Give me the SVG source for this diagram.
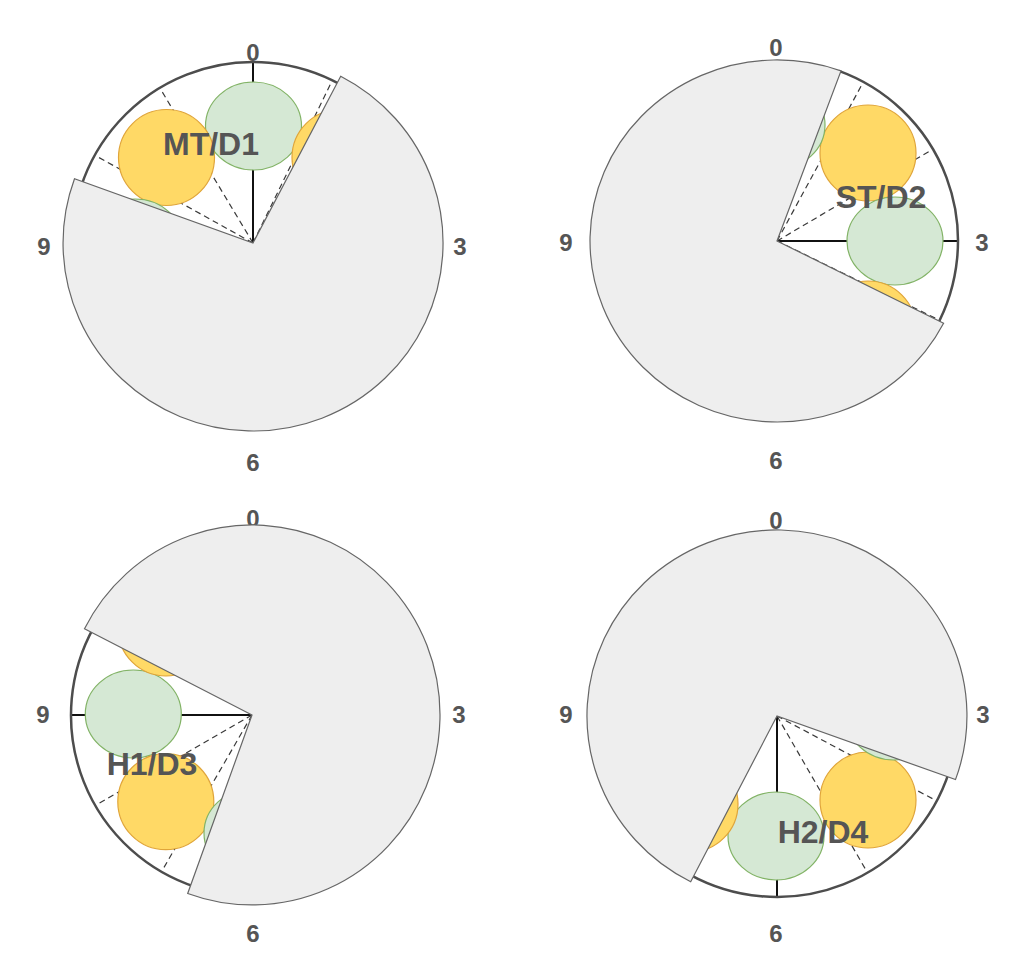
<svg xmlns="http://www.w3.org/2000/svg" width="1024" height="966" viewBox="0 0 1024 966">
<style>
.pie{fill:#eeeeee;stroke:#666666;stroke-width:1.2}
.rim{fill:none;stroke:#4d4d4d;stroke-width:2.5}
.hand{stroke:#111111;stroke-width:2;fill:none}
.dash{stroke:#3a3a3a;stroke-width:1.2;stroke-dasharray:6 4;fill:none}
.g{fill:#d5e8d4;stroke:#82b366;stroke-width:1.2}
.o{fill:#ffd966;stroke:#e0a53a;stroke-width:1.2}
.num{font-family:"Liberation Sans",Arial,sans-serif;font-weight:bold;font-size:24px;fill:#555555;text-anchor:middle}
.title{font-family:"Liberation Sans",Arial,sans-serif;font-weight:bold;font-size:32px;fill:#555555;text-anchor:middle}
</style>
<rect width="1024" height="966" fill="#ffffff"/>

<g id="clock-mt-d1">
  <g id="mt-d1-connectors">
    <line class="hand" x1="253" y1="243" x2="253" y2="62"/>
    <line class="dash" x1="253" y1="243" x2="95.6" y2="155.7"/>
    <line class="dash" x1="253" y1="243" x2="160.3" y2="88.7"/>
    <line class="dash" x1="253" y1="243" x2="331.9" y2="81.2"/>
  </g>
  <ellipse class="g" cx="253.5" cy="126" rx="48" ry="44"/>
  <circle class="o" cx="166.5" cy="157.5" r="48"/>
  <circle class="o" cx="340" cy="157.5" r="48"/>
  <ellipse class="g" cx="135" cy="243" rx="48" ry="44"/>
  <path class="rim" d="M80.9,187.1 A181,181 0 0 1 340.8,84.7"/>
  <text class="num" x="253" y="61">0</text>
  <text class="num" x="460" y="255">3</text>
  <text class="num" x="253" y="471">6</text>
  <text class="num" x="44" y="255">9</text>
  <path class="pie" d="M253,243 L340.7,76.2 A190,188 0 1 1 74.5,178.7 Z"/>
  <text class="title" x="211" y="155">MT/D1</text>
</g>

<g id="clock-st-d2">
  <g id="st-d2-connectors">
    <line class="hand" x1="777" y1="241" x2="958" y2="241"/>
    <line class="dash" x1="777" y1="241" x2="862.9" y2="82.8"/>
    <line class="dash" x1="777" y1="241" x2="932.1" y2="149.6"/>
    <line class="dash" x1="777" y1="241" x2="938.8" y2="319.9"/>
  </g>
  <circle class="o" cx="868" cy="153" r="48"/>
  <ellipse class="g" cx="895" cy="241" rx="48" ry="44"/>
  <ellipse class="g" cx="777" cy="125" rx="48" ry="44"/>
  <circle class="o" cx="868" cy="329" r="48"/>
  <path class="rim" d="M838.9,70.9 A181,181 0 0 1 935.3,328.7"/>
  <text class="num" x="776" y="56">0</text>
  <text class="num" x="982" y="251">3</text>
  <text class="num" x="776" y="469">6</text>
  <text class="num" x="566" y="251">9</text>
  <path class="pie" d="M777,241 L943.6,323.2 A187,181 0 1 1 841,70.9 Z"/>
  <text class="title" x="881" y="208">ST/D2</text>
</g>

<g id="clock-h1-d3">
  <g id="h1-d3-connectors">
    <line class="hand" x1="252" y1="715" x2="71" y2="715"/>
    <line class="dash" x1="252" y1="715" x2="162" y2="870.9"/>
    <line class="dash" x1="252" y1="715" x2="96.1" y2="805"/>
  </g>
  <ellipse class="g" cx="133.3" cy="714" rx="48" ry="44"/>
  <circle class="o" cx="165.8" cy="801.7" r="48"/>
  <ellipse class="g" cx="252" cy="833" rx="48" ry="44"/>
  <circle class="o" cx="166" cy="628" r="48"/>
  <path class="rim" d="M196.1,887.2 A181,181 0 0 1 93.7,627.3"/>
  <text class="num" x="253" y="527">0</text>
  <text class="num" x="459" y="723">3</text>
  <text class="num" x="253" y="942">6</text>
  <text class="num" x="43" y="723">9</text>
  <path class="pie" d="M252,715 L84.5,628.7 A188,190 0 1 1 187.7,893.5 Z"/>
  <text class="title" x="152" y="775">H1/D3</text>
</g>

<g id="clock-h2-d4">
  <g id="h2-d4-connectors">
    <line class="hand" x1="777" y1="716" x2="777" y2="897"/>
    <line class="dash" x1="777" y1="716" x2="867" y2="871.9"/>
    <line class="dash" x1="777" y1="716" x2="935.9" y2="800.5"/>
  </g>
  <ellipse class="g" cx="776" cy="836" rx="48" ry="44"/>
  <circle class="o" cx="868" cy="800" r="48"/>
  <ellipse class="g" cx="894" cy="716" rx="48" ry="44"/>
  <circle class="o" cx="690" cy="804" r="48"/>
  <path class="rim" d="M949.1,771.9 A181,181 0 0 1 689.3,874.3"/>
  <text class="num" x="776" y="529">0</text>
  <text class="num" x="983" y="723">3</text>
  <text class="num" x="776" y="942">6</text>
  <text class="num" x="566" y="723">9</text>
  <path class="pie" d="M777,716 L690.7,881.7 A190,186 0 1 1 955.5,779.6 Z"/>
  <text class="title" x="823" y="843">H2/D4</text>
</g>
</svg>
